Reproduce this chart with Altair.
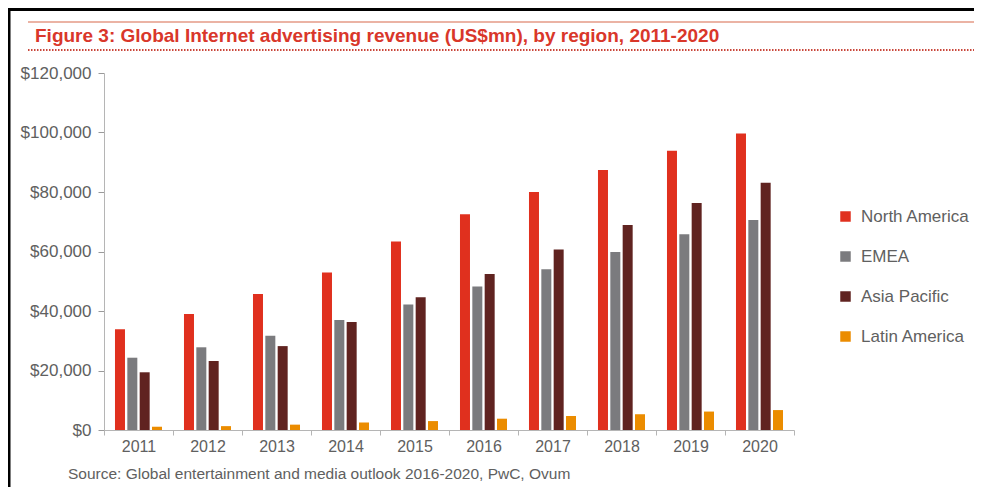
import altair as alt
import pandas as pd

years = ["2011", "2012", "2013", "2014", "2015", "2016", "2017", "2018", "2019", "2020"]
regions = ["North America", "EMEA", "Asia Pacific", "Latin America"]
north_america = [33900, 39000, 45700, 52900, 63400, 72500, 80000, 87400, 93900, 99700]
emea = [24300, 27800, 31700, 37000, 42200, 48200, 54000, 59800, 65800, 70600]
asia_pacific = [19400, 23200, 28200, 36300, 44600, 52400, 60700, 68900, 76300, 83100]
latin_america = [1100, 1300, 1800, 2500, 3000, 3800, 4700, 5300, 6200, 6700]
colors = ["#E0301E", "#7B7B7E", "#602320", "#EB8C00"]

title_text = "Figure 3: Global Internet advertising revenue (US$mn), by region, 2011-2020"
source_text = "Source: Global entertainment and media outlook 2016-2020, PwC, Ovum"

rows = []
for series, vals in zip(regions, [north_america, emea, asia_pacific, latin_america]):
    for y, v in zip(years, vals):
        rows.append({"year": y, "region": series, "value": v})
df = pd.DataFrame(rows)

FONT = "Liberation Sans"
GREY = "#606060"

bars = alt.Chart(df).mark_bar(size=10).encode(
    x=alt.X("year:N", sort=years, title=None,
            scale=alt.Scale(paddingInner=0, paddingOuter=0),
            axis=alt.Axis(labelAngle=0, labelFontSize=16, labelColor=GREY, labelFont=FONT,
                          domainColor="#b5b5b5", tickColor="#b5b5b5", tickSize=5,
                          tickBand="extent", labelPadding=3)),
    xOffset=alt.XOffset("region:N", sort=regions,
                        scale=alt.Scale(paddingInner=0.19, paddingOuter=0.89)),
    y=alt.Y("value:Q", title=None,
            scale=alt.Scale(domain=[0, 120000], nice=False),
            axis=alt.Axis(values=[0, 20000, 40000, 60000, 80000, 100000, 120000],
                          format="$,.0f", grid=False, labelFontSize=17, labelColor=GREY,
                          labelFont=FONT, domainColor="#b5b5b5", tickColor="#9a9a9a",
                          tickSize=6, labelPadding=7)),
    color=alt.Color("region:N", sort=regions, title=None,
                    scale=alt.Scale(domain=regions, range=colors),
                    legend=alt.Legend(orient="none", legendX=733, legendY=135,
                                      symbolType="square", symbolSize=110,
                                      symbolStrokeWidth=0, labelFontSize=17,
                                      labelColor=GREY, labelFont=FONT, rowPadding=22,
                                      labelOffset=7, padding=0)),
)

one = pd.DataFrame({"a": [0]})

def rule(x1, x2, y1, y2, color, width, dash=None):
    kw = dict(color=color, strokeWidth=width)
    if dash:
        kw["strokeDash"] = dash
    return alt.Chart(one).mark_rule(**kw).encode(
        x=alt.value(x1), x2=alt.value(x2), y=alt.value(y1), y2=alt.value(y2))

# page -> view offsets: view origin at page (104, 73)
OX, OY = 104, 73
border_top = rule(9 - OX, 984 - OX, 9.5 - OY, 9.5 - OY, "#000000", 3)
border_left = rule(9 - OX, 9 - OX, 8 - OY, 489 - OY, "#000000", 3)
red_line = rule(28 - OX, 984 - OX, 22 - OY, 22 - OY, "#E59A86", 1.5)
dotted = rule(28 - OX, 984 - OX, 50 - OY, 50 - OY, "#C9473B", 2, [1.5, 1.5])

title = alt.Chart(one).mark_text(
    text=title_text, font=FONT, fontSize=19, fontWeight="bold", color="#D9372A",
    align="left", baseline="middle").encode(x=alt.value(35 - OX), y=alt.value(36 - OY))
source = alt.Chart(one).mark_text(
    text=source_text, font=FONT, fontSize=15.5, color=GREY,
    align="left", baseline="middle").encode(x=alt.value(68 - OX), y=alt.value(474 - OY))

chart = alt.layer(bars, border_top, border_left, red_line, dotted, title, source).properties(
    width=690, height=357,
    autosize=alt.AutoSizeParams(type="none"),
    padding={"left": 96, "top": 65, "right": 180, "bottom": 57},
    background="white",
).configure_view(strokeWidth=0, stroke="transparent")

chart.save("out.html", embed_options={"renderer": "svg", "actions": False})
